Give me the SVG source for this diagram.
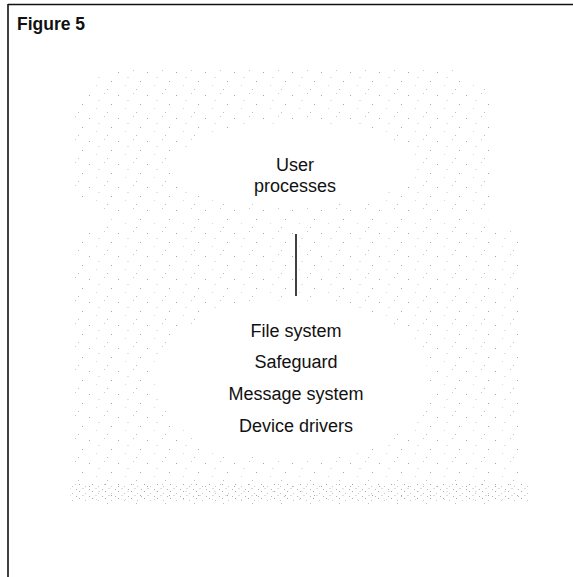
<svg xmlns="http://www.w3.org/2000/svg" width="573" height="577" viewBox="0 0 573 577">
  <style>
    .label { font-family: "Liberation Sans", Arial, sans-serif; font-size: 18px; fill: #111; text-anchor: middle; }
    .title { font-family: "Liberation Sans", Arial, sans-serif; font-size: 17.5px; font-weight: bold; fill: #111; }
    .frame { stroke: #111; stroke-width: 1.6; fill: none; }
    .conn { stroke: #111; stroke-width: 1.6; fill: none; }
  </style>
  <defs>
    <pattern id="stipple" width="29" height="23" patternUnits="userSpaceOnUse">
      <rect x="2" y="3" width="1" height="1" fill="#a8a8a8"/>
      <rect x="17" y="1" width="1" height="1" fill="#c8c8c8"/>
      <rect x="24" y="12" width="1" height="1" fill="#a8a8a8"/>
      <rect x="9" y="16" width="1" height="1" fill="#d8d8d8"/>
      <rect x="20" y="20" width="1" height="1" fill="#bdbdbd"/>
      <rect x="11" y="8" width="2" height="1" fill="#e2e2e2"/>
    </pattern>
    <pattern id="stippleDense" width="13" height="7" patternUnits="userSpaceOnUse">
      <rect x="1" y="1" width="1" height="1" fill="#a8a8a8"/>
      <rect x="7" y="3" width="1" height="1" fill="#c8c8c8"/>
      <rect x="4" y="5" width="2" height="1" fill="#dedede"/>
      <rect x="11" y="6" width="1" height="1" fill="#b5b5b5"/>
    </pattern>
  </defs>

  <!-- frame -->
  <line class="frame" x1="8" y1="4.5" x2="573" y2="4.5"/>
  <line class="frame" x1="8" y1="4" x2="8" y2="577"/>
  <text class="title" x="17" y="30">Figure 5</text>

  <!-- stippled background regions -->
  <g id="shading">
    <path fill="url(#stipple)" fill-rule="evenodd"
      d="M75,120 Q75,68 140,68 L430,68 Q495,68 495,120 L495,185 Q495,214 460,214 L130,214 Q75,214 75,185 Z
         M175,165 a120,42 0 1,0 240,0 a120,42 0 1,0 -240,0 Z"/>
    <path fill="url(#stipple)" fill-rule="evenodd"
      d="M75,262 Q75,218 130,218 L470,218 Q522,218 522,262 L522,480 Q522,505 495,505 L100,505 Q72,505 72,480 Z
         M155,380 a137,80 0 1,0 274,0 a137,80 0 1,0 -274,0 Z"/>
    <rect x="70" y="484" width="458" height="18" fill="url(#stippleDense)"/>
  </g>

  <!-- connectors -->
  <g id="connectors">
    <line class="conn" x1="296" y1="234" x2="296" y2="296"/>
  </g>

  <!-- nodes -->
  <g id="user-processes">
    <text class="label" x="295" y="171">User</text>
    <text class="label" x="295" y="192">processes</text>
  </g>
  <g id="kernel-layers">
    <text class="label" x="296" y="337">File system</text>
    <text class="label" x="296" y="368">Safeguard</text>
    <text class="label" x="296" y="400">Message system</text>
    <text class="label" x="296" y="432">Device drivers</text>
  </g>
</svg>
